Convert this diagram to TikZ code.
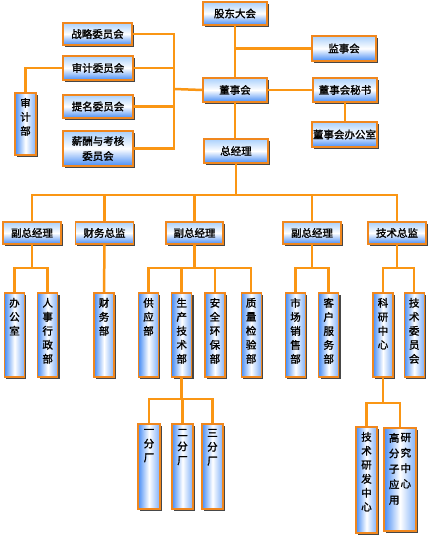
\documentclass[tikz,border=0pt]{standalone}
\usepackage{fontspec}
\newfontfamily\cjk[FakeBold=1.6,AutoFakeBold=1.6]{Noto Sans CJK SC}
\usetikzlibrary{positioning}
\usetikzlibrary{shadows}
\definecolor{lineor}{RGB}{250,150,20}
\definecolor{boxedge}{RGB}{240,135,30}
\definecolor{boxblue}{RGB}{70,140,245}
\definecolor{boxsky}{RGB}{170,208,252}
\newcommand{\vtxt}[2]{\parbox[c][#1][t]{1.2em}{\centering #2}}

\begin{document}
\begin{tikzpicture}[x=1pt,y=-1pt,font=\cjk\bfseries\fontsize{10.5}{14}\selectfont]
	\tikzstyle{box}=[draw=boxedge,line width=1.2pt,inner sep=0pt,
		drop shadow={shadow xshift=1.8pt,shadow yshift=-1.8pt,fill=black!80,opacity=0.9}]
	\tikzstyle{hbox}=[box,top color=boxsky,bottom color=boxblue,middle color=white,
		minimum width=64pt,minimum height=23pt]
	\tikzstyle{vbox}=[box,left color=boxblue,right color=boxblue!70,middle color=white,
		minimum width=20pt,minimum height=84pt]
	\tikzstyle{link}=[draw=lineor,line width=2.5pt]
	
	\fill[white] (0,0) rectangle (430,535);
	\useasboundingbox (0,0) rectangle (430,535);
	
	% board level
	\node[hbox]                    (gd)  at (235,13.5)  {股东大会};
	\node[hbox,minimum height=25pt] (jsh) at (344,48.5) {监事会};
	\node[hbox,minimum height=24pt] (dsh) at (235,90)   {董事会};
	\node[hbox,minimum height=24pt] (msh) at (345,90)   {董事会秘书};
	\node[hbox,minimum width=65pt,minimum height=25pt] (dbgs) at (344.5,134.5) {董事会办公室};
	\node[hbox,minimum height=24pt] (zjl) at (236,151)  {总经理};
	
	% committees
	\node[hbox,minimum width=69pt,minimum height=22pt] (zlw) at (97.5,34)  {战略委员会};
	\node[hbox,minimum width=70pt,minimum height=24pt] (sjw) at (98,68)    {审计委员会};
	\node[hbox,minimum width=70pt]                     (tmw) at (98,106.5) {提名委员会};
	\node[hbox,minimum width=70pt,minimum height=35pt,align=center,
		font=\cjk\bfseries\fontsize{10.5}{15}\selectfont] (xcw) at (98,148.5) {薪酬与考核\\委员会};
	\node[vbox,minimum width=21pt,minimum height=62pt] (sjb) at (25.5,124) {\vtxt{52pt}{审\\计\\部}};
	
	% managers
	\node[hbox,minimum width=58pt,minimum height=22pt] (fz1) at (32,233)    {副总经理};
	\node[hbox,minimum width=58pt,minimum height=22pt] (cwz) at (104.5,233) {财务总监};
	\node[hbox,minimum width=57pt,minimum height=22pt] (fz2) at (194.5,233) {副总经理};
	\node[hbox,minimum width=58pt,minimum height=22pt] (fz3) at (312,233)   {副总经理};
	\node[hbox,minimum width=58pt,minimum height=22pt] (jsz) at (397,233)   {技术总监};
	
	% departments
	\node[vbox] (bgs) at (14.5,335)         {\vtxt{74pt}{办\\公\\室}};
	\node[vbox] (rsb) [right=12pt of bgs]   {\vtxt{74pt}{人\\事\\行\\政\\部}};
	\node[vbox] (cwb) at (104,335)          {\vtxt{74pt}{财\\务\\部}};
	\node[vbox] (gyb) at (148.5,335)        {\vtxt{74pt}{供\\应\\部}};
	\node[vbox] (scb) [right=12pt of gyb]   {\vtxt{74pt}{生\\产\\技\\术\\部}};
	\node[vbox] (aqb) [right=12pt of scb]   {\vtxt{74pt}{安\\全\\环\\保\\部}};
	\node[vbox] (zjb) [right=15pt of aqb]   {\vtxt{74pt}{质\\量\\检\\验\\部}};
	\node[vbox] (sxb) at (295.5,335)        {\vtxt{74pt}{市\\场\\销\\售\\部}};
	\node[vbox] (kfb) [right=12pt of sxb]   {\vtxt{74pt}{客\\户\\服\\务\\部}};
	\node[vbox] (kyz) at (383,335)          {\vtxt{74pt}{科\\研\\中\\心}};
	\node[vbox] (jwh) [right=10pt of kyz]   {\vtxt{74pt}{技\\术\\委\\员\\会}};
	
	% plants and centres
	\node[vbox,minimum width=22pt,minimum height=85pt] (fc1) at (149,466.5) {\vtxt{75pt}{一\\分\\厂}};
	\node[vbox,minimum width=21pt,minimum height=85pt] (fc2) at (182.5,466.5) {\vtxt{75pt}{二\\分\\厂}};
	\node[vbox,minimum width=21pt,minimum height=85pt] (fc3) at (212.5,466.5) {\vtxt{75pt}{三\\分\\厂}};
	\node[vbox,minimum width=21pt,minimum height=106pt] (jyz) at (366.5,480) {\vtxt{96pt}{技\\术\\研\\发\\中\\心}};
	\node[vbox,minimum width=32pt,minimum height=103pt,
		font=\cjk\bfseries\fontsize{10.5}{15.5}\selectfont] (gfz) at (400,479.5)
		{\parbox[c][93pt][t]{28pt}{\centering\vtxt{80pt}{高\\分\\子\\应\\用}\hspace{-1pt}\vtxt{80pt}{研\\究\\中\\心}}};
	
	% bus lines
	\coordinate (wb) at (174,89);
	\coordinate (mb) at (0,195);
	\coordinate (sb) at (0,268);
	\coordinate (fb) at (0,399);
	\coordinate (kb) at (0,403);
	
	\draw[link] (gd.south) -- (dsh.north);
	\draw[link] (jsh.west) -- (jsh.west -| gd.south);
	\draw[link] (dsh.east) -- (msh.west);
	\draw[link] (msh.south) -- (msh.south |- dbgs.north);
	\draw[link] (dsh.south) -- (dsh.south |- zjl.north);
	
	\draw[link] (zlw.east) -- (zlw.east -| wb) -- (xcw.east -| wb) -- (xcw.east);
	\draw[link] (sjw.east) -- (sjw.east -| wb);
	\draw[link] (tmw.east) -- (tmw.east -| wb);
	\draw[link] (dsh.west) -- (wb);
	\draw[link] (sjw.west) -| (sjb.north);
	
	\draw[link] (zjl.south) -- (zjl.south |- mb);
	\draw[link] (fz1.north) |- (jsz.north |- mb) -- (jsz.north);
	\draw[link] (cwz.north) -- (cwz.north |- mb);
	\draw[link] (fz2.north) -- (fz2.north |- mb);
	\draw[link] (fz3.north) -- (fz3.north |- mb);
	
	\draw[link] (fz1.south) -- (fz1.south |- sb);
	\draw[link] (bgs.north) |- (rsb.north |- sb) -- (rsb.north);
	\draw[link] (cwz.south) -- (cwb.north);
	\draw[link] (fz2.south) -- (fz2.south |- sb);
	\draw[link] (gyb.north) |- (zjb.north |- sb) -- (zjb.north);
	\draw[link] (scb.north) -- (scb.north |- sb);
	\draw[link] (aqb.north) -- (aqb.north |- sb);
	\draw[link] (fz3.south) -- (fz3.south |- sb);
	\draw[link] (sxb.north) |- (kfb.north |- sb) -- (kfb.north);
	\draw[link] (jsz.south) -- (jsz.south |- sb);
	\draw[link] (kyz.north) |- (jwh.north |- sb) -- (jwh.north);
	
	\draw[link] (scb.south) -- (scb.south |- fb);
	\draw[link] (fc1.north) |- (fc3.north |- fb) -- (fc3.north);
	\draw[link] (fc2.north) -- (fc2.north |- fb);
	\draw[link] (kyz.south) -- (kyz.south |- kb);
	\draw[link] (jyz.north) |- (gfz.north |- kb) -- (gfz.north);
\end{tikzpicture}
\end{document}
